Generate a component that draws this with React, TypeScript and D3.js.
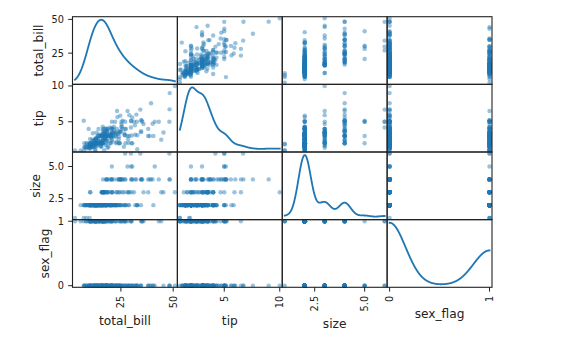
import React from 'react';
import * as d3 from 'd3';

const columnNames = ['total_bill', 'tip', 'size', 'sex_flag'];

const totalBill = [
  16.99, 10.34, 21.01, 23.68, 24.59, 25.29, 8.77, 26.88, 15.04, 14.78,
  10.27, 35.26, 15.42, 18.43, 14.83, 21.58, 10.33, 16.29, 16.97, 20.65,
  17.92, 20.29, 15.77, 39.42, 19.82, 17.81, 13.37, 12.69, 21.7, 19.65,
  9.55, 18.35, 15.06, 20.69, 17.78, 24.06, 16.31, 16.93, 18.69, 31.27,
  16.04, 17.46, 13.94, 9.68, 30.4, 18.29, 22.23, 32.4, 28.55, 18.04,
  12.54, 10.29, 34.81, 9.94, 25.56, 19.49, 38.01, 26.41, 11.24, 48.27,
  20.29, 13.81, 11.02, 18.29, 17.59, 20.08, 16.45, 3.07, 20.23, 15.01,
  12.02, 17.07, 26.86, 25.28, 14.73, 10.51, 17.92, 27.2, 22.76, 17.29,
  19.44, 16.66, 10.07, 32.68, 15.98, 34.83, 13.03, 18.28, 24.71, 21.16,
  28.97, 22.49, 5.75, 16.32, 22.75, 40.17, 27.28, 12.03, 21.01, 12.46,
  11.35, 15.38, 44.3, 22.42, 20.92, 15.36, 20.49, 25.21, 18.24, 14.31,
  14.0, 7.25, 38.07, 23.95, 25.71, 17.31, 29.93, 10.65, 12.43, 24.08,
  11.69, 13.42, 14.26, 15.95, 12.48, 29.8, 8.52, 14.52, 11.38, 22.82,
  19.08, 20.27, 11.17, 12.26, 18.26, 8.51, 10.33, 14.15, 16.0, 13.16,
  17.47, 34.3, 41.19, 27.05, 16.43, 8.35, 18.64, 11.87, 9.78, 7.51,
  14.07, 13.13, 17.26, 24.55, 19.77, 29.85, 48.17, 25.0, 13.39, 16.49,
  21.5, 12.66, 16.21, 13.81, 17.51, 24.52, 20.76, 31.71, 10.59, 10.63,
  50.81, 15.81, 7.25, 31.85, 16.82, 32.9, 17.89, 14.48, 9.6, 34.63,
  34.65, 23.33, 45.35, 23.17, 40.55, 20.69, 20.9, 30.46, 18.15, 23.1,
  15.69, 19.81, 28.44, 15.48, 16.58, 7.56, 10.34, 43.11, 13.0, 13.51,
  18.71, 12.74, 13.0, 16.4, 20.53, 16.47, 26.59, 38.73, 24.27, 12.76,
  30.06, 25.89, 48.33, 13.27, 28.17, 12.9, 28.15, 11.59, 7.74, 30.14,
  12.16, 13.42, 8.58, 15.98, 13.42, 16.27, 10.09, 20.45, 13.28, 22.12,
  24.01, 15.69, 11.61, 10.77, 15.53, 10.07, 12.6, 32.83, 35.83, 29.03,
  27.18, 22.67, 17.82, 18.78,
];

const tip = [
  1.01, 1.66, 3.5, 3.31, 3.61, 4.71, 2.0, 3.12, 1.96, 3.23,
  1.71, 5.0, 1.57, 3.0, 3.02, 3.92, 1.67, 3.71, 3.5, 3.35,
  4.08, 2.75, 2.23, 7.58, 3.18, 2.34, 2.0, 2.0, 4.3, 3.0,
  1.45, 2.5, 3.0, 2.45, 3.27, 3.6, 2.0, 3.07, 2.31, 5.0,
  2.24, 2.54, 3.06, 1.32, 5.6, 3.0, 5.0, 6.0, 2.05, 3.0,
  2.5, 2.6, 5.2, 1.56, 4.34, 3.51, 3.0, 1.5, 1.76, 6.73,
  3.21, 2.0, 1.98, 3.76, 2.64, 3.15, 2.47, 1.0, 2.01, 2.09,
  1.97, 3.0, 3.14, 5.0, 2.2, 1.25, 3.08, 4.0, 3.0, 2.71,
  3.0, 3.4, 1.83, 5.0, 2.03, 5.17, 2.0, 4.0, 5.85, 3.0,
  3.0, 3.5, 1.0, 4.3, 3.25, 4.73, 4.0, 1.5, 3.0, 1.5,
  2.5, 3.0, 2.5, 3.48, 4.08, 1.64, 4.06, 4.29, 3.76, 4.0,
  3.0, 1.0, 4.0, 2.55, 4.0, 3.5, 5.07, 1.5, 1.8, 2.92,
  2.31, 1.68, 2.5, 2.0, 2.52, 4.2, 1.48, 2.0, 2.0, 2.18,
  1.5, 2.83, 1.5, 2.0, 3.25, 1.25, 2.0, 2.0, 2.0, 2.75,
  3.5, 6.7, 5.0, 5.0, 2.3, 1.5, 1.36, 1.63, 1.73, 2.0,
  2.5, 2.0, 2.74, 2.0, 2.0, 5.14, 5.0, 3.75, 2.61, 2.0,
  3.5, 2.5, 2.0, 2.0, 3.0, 3.48, 2.24, 4.5, 1.61, 2.0,
  10.0, 3.16, 5.15, 3.18, 4.0, 3.11, 2.0, 2.0, 4.0, 3.55,
  3.68, 5.65, 3.5, 6.5, 3.0, 5.0, 3.5, 2.0, 3.5, 4.0,
  1.5, 4.19, 2.56, 2.02, 4.0, 1.44, 2.0, 5.0, 2.0, 2.0,
  4.0, 2.01, 2.0, 2.5, 4.0, 3.23, 3.41, 3.0, 2.03, 2.23,
  2.0, 5.16, 9.0, 2.5, 6.5, 1.1, 3.0, 1.5, 1.44, 3.09,
  2.2, 3.48, 1.92, 3.0, 1.58, 2.5, 2.0, 3.0, 2.72, 2.88,
  2.0, 3.0, 3.39, 1.47, 3.0, 1.25, 1.0, 1.17, 4.67, 5.92,
  2.0, 2.0, 1.75, 3.0,
];

const size = [
  2, 3, 3, 2, 4, 4, 2, 4, 2, 2,
  2, 4, 2, 4, 2, 2, 3, 3, 3, 3,
  2, 2, 2, 4, 2, 4, 2, 2, 2, 2,
  2, 4, 2, 4, 2, 3, 3, 3, 3, 3,
  3, 2, 2, 2, 4, 2, 2, 4, 3, 2,
  2, 2, 4, 2, 4, 2, 4, 2, 2, 4,
  2, 2, 2, 4, 3, 3, 2, 1, 2, 2,
  2, 3, 2, 2, 2, 2, 2, 4, 2, 2,
  2, 2, 1, 2, 2, 4, 2, 2, 2, 2,
  2, 2, 2, 2, 2, 4, 2, 2, 2, 2,
  2, 2, 3, 2, 2, 2, 2, 2, 2, 2,
  2, 1, 3, 2, 3, 2, 4, 2, 2, 4,
  2, 2, 2, 2, 2, 6, 2, 2, 2, 3,
  2, 2, 2, 2, 2, 2, 2, 2, 2, 2,
  2, 6, 5, 6, 2, 2, 3, 2, 2, 2,
  2, 2, 3, 4, 4, 5, 6, 4, 2, 4,
  4, 2, 3, 2, 2, 3, 2, 4, 2, 2,
  3, 2, 2, 2, 2, 2, 2, 2, 2, 2,
  4, 2, 3, 4, 2, 5, 3, 5, 3, 3,
  2, 2, 2, 2, 2, 2, 2, 4, 2, 2,
  3, 2, 2, 2, 4, 3, 3, 4, 2, 2,
  3, 4, 4, 2, 3, 2, 5, 2, 2, 4,
  2, 2, 1, 3, 2, 2, 2, 4, 2, 2,
  4, 3, 2, 2, 2, 2, 2, 2, 3, 3,
  2, 2, 2, 2,
];

const sexFlag = [
  1, 0, 0, 0, 1, 0, 0, 0, 0, 0,
  0, 1, 0, 0, 1, 0, 1, 0, 1, 0,
  0, 1, 1, 0, 0, 0, 0, 0, 0, 1,
  0, 0, 1, 1, 0, 0, 0, 1, 0, 0,
  0, 0, 0, 0, 0, 0, 0, 0, 0, 0,
  0, 1, 1, 0, 0, 0, 0, 1, 0, 0,
  0, 0, 0, 0, 0, 0, 1, 1, 0, 0,
  0, 1, 1, 1, 1, 0, 0, 0, 0, 0,
  0, 0, 1, 0, 0, 1, 0, 0, 0, 0,
  0, 0, 1, 1, 1, 0, 0, 0, 0, 0,
  1, 1, 1, 1, 1, 0, 0, 0, 0, 1,
  0, 1, 0, 0, 1, 1, 0, 1, 1, 1,
  0, 1, 0, 0, 1, 1, 0, 1, 1, 0,
  0, 1, 1, 1, 1, 1, 1, 1, 0, 1,
  1, 0, 0, 1, 1, 1, 1, 1, 0, 0,
  0, 0, 0, 0, 0, 1, 0, 1, 1, 0,
  0, 0, 1, 0, 1, 0, 0, 0, 1, 1,
  0, 0, 0, 0, 0, 0, 0, 0, 1, 0,
  0, 0, 0, 0, 0, 0, 1, 0, 1, 0,
  0, 1, 0, 0, 0, 0, 0, 1, 1, 0,
  0, 1, 1, 1, 0, 1, 0, 0, 0, 1,
  0, 0, 0, 1, 1, 1, 0, 0, 0, 1,
  0, 1, 0, 1, 0, 1, 1, 0, 0, 1,
  0, 0, 0, 0, 0, 0, 0, 0, 1, 0,
  1, 0, 0, 1,
];

const tickValues = [[25, 50], [5, 10], [2.5, 5], [0, 1]];
const tickLabels = [['25', '50'], ['5', '10'], ['2.5', '5.0'], ['0', '1']];

const W = 571;
const H = 342;
const LEFT = 72.5;
const RIGHT = 492;
const TOP = 16.7;
const BOTTOM = 287.3;
const FONT = "'DejaVu Sans', sans-serif";
const TICK_FS = 9.75;
const LABEL_FS = 12.2;
const TICK_LEN = 4.3;
const TICK_PAD = 4.3;
const BLUE = '#1f77b4';

function approxWidth(s: string, fs: number) {
  let w = 0;
  for (const c of s) w += c === '.' ? 0.318 : 0.636;
  return w * fs;
}

function gaussianKde(values: number[]) {
  const n = values.length;
  const sd = d3.deviation(values) as number;
  const h = sd * Math.pow(n, -0.2);
  const [mn, mx] = d3.extent(values) as [number, number];
  const norm = 1 / (n * h * Math.sqrt(2 * Math.PI));
  return d3.range(1000).map((k) => {
    const x = mn + ((mx - mn) * k) / 999;
    let s = 0;
    for (const v of values) {
      const z = (x - v) / h;
      s += Math.exp(-0.5 * z * z);
    }
    return [x, s * norm] as [number, number];
  });
}

export default function App() {
  const data = [totalBill, tip, size, sexFlag];
  const n = data.length;
  const cw = (RIGHT - LEFT) / n;
  const ch = (BOTTOM - TOP) / n;

  const domains = data.map((vals) => {
    const [mn, mx] = d3.extent(vals) as [number, number];
    const pad = (mx - mn) * 0.025;
    return [mn - pad, mx + pad];
  });
  const xScales = domains.map((d, j) =>
    d3.scaleLinear().domain(d).range([LEFT + j * cw, LEFT + (j + 1) * cw])
  );
  const yScales = domains.map((d, i) =>
    d3.scaleLinear().domain(d).range([TOP + (i + 1) * ch, TOP + i * ch])
  );

  const kdes = data.map((vals) => gaussianKde(vals));

  const cells: React.ReactNode[] = [];
  for (let i = 0; i < n; i++) {
    for (let j = 0; j < n; j++) {
      const x0 = LEFT + j * cw;
      const y0 = TOP + i * ch;
      const id = `clip-${i}-${j}`;
      let content: React.ReactNode;
      if (i === j) {
        const pts = kdes[i];
        const ys = pts.map((p) => p[1]);
        const ymin = d3.min(ys) as number;
        const ymax = d3.max(ys) as number;
        const r = ymax - ymin;
        const yk = d3
          .scaleLinear()
          .domain([ymin - 0.05 * r, ymax + 0.05 * r])
          .range([y0 + ch, y0]);
        const line = d3
          .line<[number, number]>()
          .x((p) => xScales[j](p[0]))
          .y((p) => yk(p[1]));
        content = (
          <path d={line(pts) || ''} fill="none" stroke={BLUE} strokeWidth={1.83} strokeLinejoin="round" strokeLinecap="square" />
        );
      } else {
        const xs = data[j];
        const ys = data[i];
        content = xs.map((xv, k) => (
          <circle
            key={k}
            cx={xScales[j](xv)}
            cy={yScales[i](ys[k])}
            r={2.2}
            fill={BLUE}
            fillOpacity={0.45}
          />
        ));
      }
      cells.push(
        <g key={id}>
          <defs>
            <clipPath id={id}>
              <rect x={x0} y={y0} width={cw} height={ch} />
            </clipPath>
          </defs>
          <g clipPath={`url(#${id})`}>{content}</g>
        </g>
      );
    }
  }

  const spines: React.ReactNode[] = [];
  for (let i = 0; i < n; i++) {
    for (let j = 0; j < n; j++) {
      spines.push(
        <rect key={`s${i}${j}`} x={LEFT + j * cw} y={TOP + i * ch} width={cw} height={ch} fill="none" stroke="#222" strokeWidth={1.1} />
      );
    }
  }

  const axes: React.ReactNode[] = [];
  for (let i = 0; i < n; i++) {
    const maxW = d3.max(tickLabels[i].map((s) => approxWidth(s, TICK_FS))) as number;
    tickValues[i].forEach((v, k) => {
      const y = yScales[i](v);
      axes.push(
        <g key={`yt${i}${k}`}>
          <line x1={LEFT - TICK_LEN} x2={LEFT} y1={y} y2={y} stroke="#222" strokeWidth={1} />
          <text x={LEFT - TICK_LEN - TICK_PAD} y={y} dy="0.35em" textAnchor="end" fontSize={TICK_FS} fontFamily={FONT} fill="#222">
            {tickLabels[i][k]}
          </text>
        </g>
      );
    });
    const lx = LEFT - TICK_LEN - TICK_PAD - maxW - 8.5;
    const ly = TOP + (i + 0.5) * ch;
    axes.push(
      <text key={`yl${i}`} transform={`translate(${lx},${ly}) rotate(-90)`} textAnchor="middle" fontSize={LABEL_FS} fontFamily={FONT} fill="#222">
        {columnNames[i]}
      </text>
    );
  }
  for (let j = 0; j < n; j++) {
    const maxW = d3.max(tickLabels[j].map((s) => approxWidth(s, TICK_FS))) as number;
    tickValues[j].forEach((v, k) => {
      const x = xScales[j](v);
      axes.push(
        <g key={`xt${j}${k}`}>
          <line x1={x} x2={x} y1={BOTTOM} y2={BOTTOM + TICK_LEN} stroke="#222" strokeWidth={1} />
          <text transform={`translate(${x},${BOTTOM + TICK_LEN + TICK_PAD}) rotate(-90)`} dy="0.35em" textAnchor="end" fontSize={TICK_FS} fontFamily={FONT} fill="#222">
            {tickLabels[j][k]}
          </text>
        </g>
      );
    });
    const bx = LEFT + (j + 0.5) * cw;
    const by = BOTTOM + TICK_LEN + TICK_PAD + maxW + 16.3;
    axes.push(
      <text key={`xl${j}`} x={bx} y={by} textAnchor="middle" fontSize={LABEL_FS} fontFamily={FONT} fill="#222">
        {columnNames[j]}
      </text>
    );
  }

  return (
    <svg width={W} height={H} style={{ position: 'absolute', left: 0, top: 0, background: '#fff' }}>
      {cells}
      {spines}
      {axes}
    </svg>
  );
}
